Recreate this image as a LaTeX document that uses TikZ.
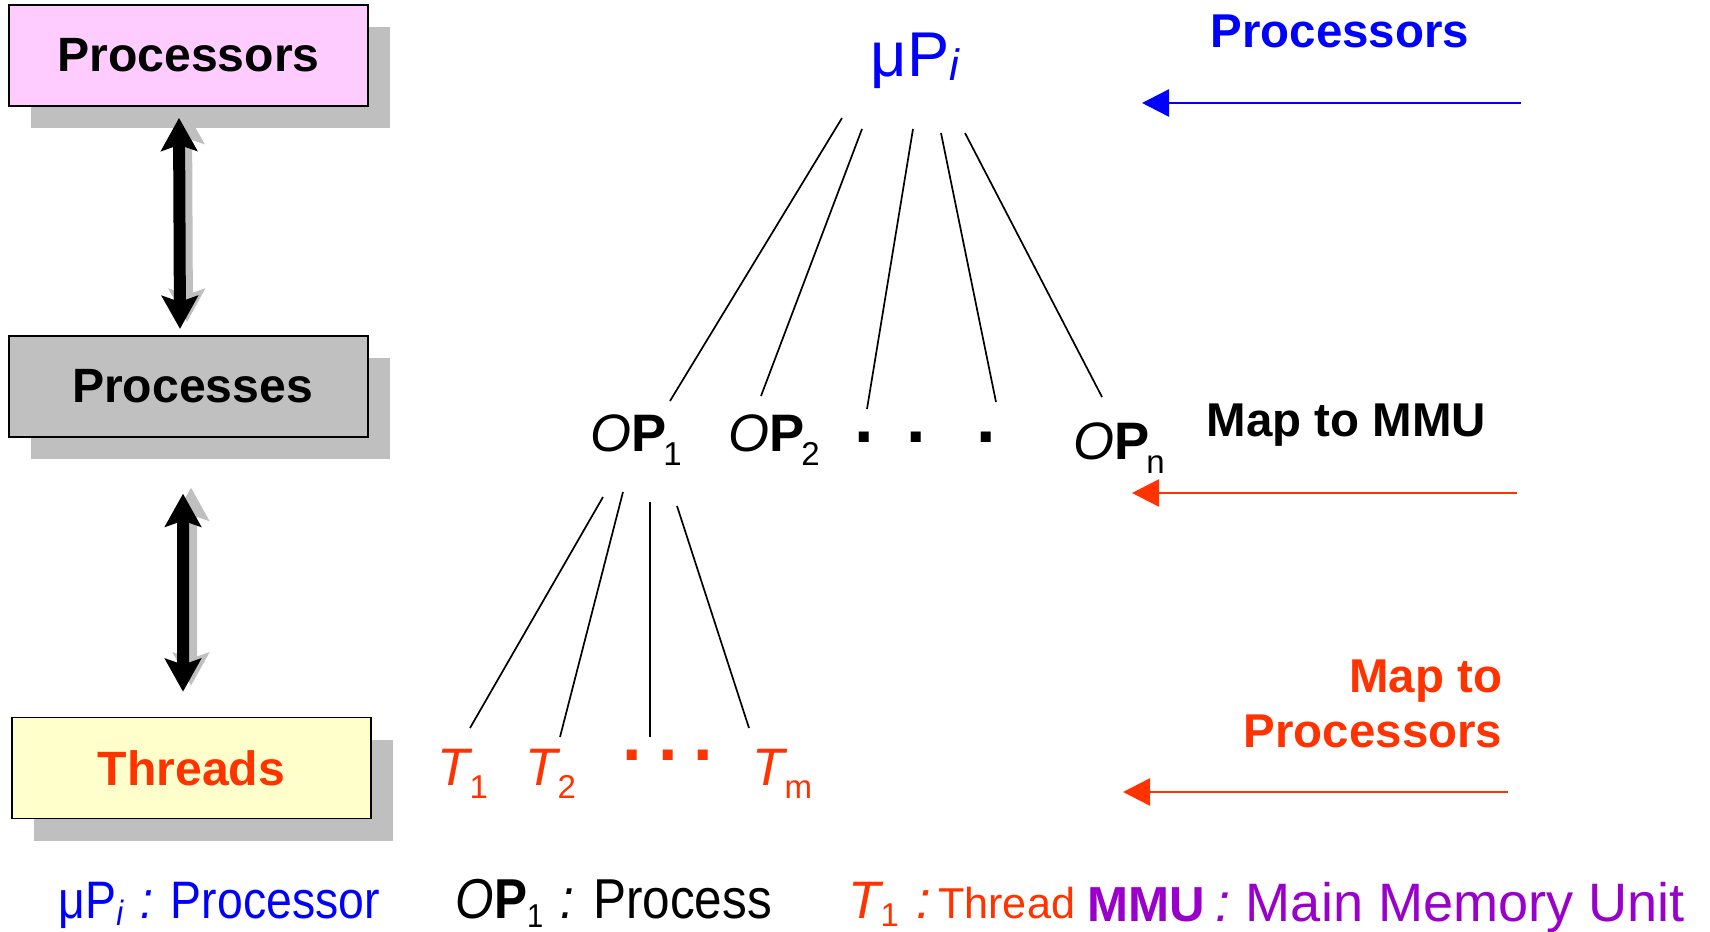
\documentclass[tikz,border=0pt]{standalone}
\usepackage{fontspec}
\setmainfont{Liberation Sans}
\newfontfamily\narrowsans[FakeStretch=0.88]{Liberation Sans}
\usetikzlibrary{positioning,shadows,arrows.meta}

\definecolor{procpink}{HTML}{FFCCFF}
\definecolor{procgray}{HTML}{C0C0C0}
\definecolor{thryellow}{HTML}{FFFFCC}
\definecolor{shadowgray}{HTML}{BFBFBF}
\definecolor{thrred}{HTML}{FF3300}
\definecolor{mmupurple}{HTML}{9900CC}

% lowered index, e.g. OP_1, T_m
\newcommand{\idx}[2][0.25em]{\raisebox{-#1}{\fontsize{9.4}{10}\selectfont #2}}

\begin{document}
\begin{tikzpicture}[x=0.1mm, y=-0.1mm,
layerbox/.style={rectangle, draw=black, line width=0.18mm, minimum width=35.9mm, minimum height=10.1mm,
  font=\fontsize{13.7}{15}\selectfont\bfseries,
  drop shadow={shadow xshift=2.2mm, shadow yshift=-2.2mm, fill=shadowgray, opacity=1}},
txt/.style={inner sep=0pt, anchor=base west},
heading/.style={txt, font=\fontsize{13.5}{15}\selectfont\bfseries},
opnode/.style={txt, font=\fontsize{15}{16}\selectfont},
dotnode/.style={inner sep=0pt, anchor=base, font=\fontsize{20}{20}\selectfont\bfseries},
branch/.style={line width=0.17mm},
bigarrow/.style={line width=1.2mm, {Stealth[length=3.3mm, width=3.6mm, inset=0.6mm]}-{Stealth[length=3.3mm, width=3.6mm, inset=0.6mm]}},
maparrow/.style={line width=0.25mm, -{Triangle[length=2.7mm, width=2.7mm]}},
]
\useasboundingbox (0,0) rectangle (1710,932);

% the three layers on the left
\node[layerbox, fill=procpink] (procbox) at (188.5,55.5) {Processors};
\node[layerbox, fill=procgray] (procsbox) [below=22.8mm of procbox] {\hspace{0.8mm}Processes};
\node[layerbox, fill=thryellow, text=thrred, xshift=0.3mm] (thrbox) [below=27.9mm of procsbox] {Threads};

% double arrows, gray copy first
\draw[bigarrow, shadowgray, transform canvas={shift={(0.7mm,0.7mm)}}] ([shift={(-9.5,11)}]procbox.south) -- ([shift={(-8.5,-6)}]procsbox.north);
\draw[bigarrow] ([shift={(-9.5,11)}]procbox.south) -- ([shift={(-8.5,-6)}]procsbox.north);
\draw[bigarrow, shadowgray, transform canvas={shift={(0.8mm,0.6mm)}}] ([shift={(-5.5,56)}]procsbox.south) -- ([shift={(-8.5,-25)}]thrbox.north);
\draw[bigarrow] ([shift={(-5.5,56)}]procsbox.south) -- ([shift={(-8.5,-25)}]thrbox.north);

% processor, processes, threads
\node[txt, text=blue, font=\fontsize{18}{18}\selectfont] (mup) at (870,77) {μP\raisebox{-0.05em}{\fontsize{12.5}{12}\selectfont\itshape i}};
\node[opnode] (op1) at (590,452) {\textit{O}\textbf{P}\hspace{-1pt}\idx{1}};
\node[opnode] (op2) at (728,452) {\textit{O}\textbf{P}\hspace{-1pt}\idx{2}};
\node[dotnode] (opdot1) at (864,443) {.};
\node[dotnode] (opdot2) at (916,443) {.};
\node[dotnode] (opdot3) at (986,443) {.};
\node[opnode] (opn) at (1073,460) {\textit{O}\textbf{P}\hspace{-1pt}\idx{n}};

\node[opnode, text=thrred] (t1) at (437,785) {\textit{T}\hspace{-1pt}\idx{1}};
\node[opnode, text=thrred] (t2) at (525,785) {\textit{T}\hspace{-1pt}\idx{2}};
\node[dotnode, text=thrred] (tdot1) at (632,760) {.};
\node[dotnode, text=thrred] (tdot2) at (668,760) {.};
\node[dotnode, text=thrred] (tdot3) at (703,760) {.};
\node[opnode, text=thrred] (tm) at (752,785) {\textit{T}\hspace{-1pt}\idx{m}};

% muP_i -> OP
\draw[branch] ([shift={(-28,41)}]mup.base west) -- ([shift={(80,-51)}]op1.base west);
\draw[branch] ([shift={(-8,52)}]mup.base west) -- ([shift={(33,-56)}]op2.base west);
\draw[branch] ([shift={(43,52)}]mup.base west) -- ([shift={(3,-34)}]opdot1.base);
\draw[branch] ([shift={(71,56)}]mup.base west) -- ([shift={(10,-41)}]opdot3.base);
\draw[branch] ([shift={(95,56)}]mup.base west) -- ([shift={(29,-63)}]opn.base west);

% OP_1 -> T
\draw[branch] ([shift={(13,45)}]op1.base west) -- ([shift={(33,-57)}]t1.base west);
\draw[branch] ([shift={(33,40)}]op1.base west) -- ([shift={(35,-48)}]t2.base west);
\draw[branch] ([shift={(60,50)}]op1.base west) -- ([shift={(18,-23)}]tdot1.base);
\draw[branch] ([shift={(87,54)}]op1.base west) -- ([shift={(-3,-57)}]tm.base west);

% mapping labels and arrows on the right
\node[heading, text=blue] (proclbl) at (1210,48) {Processors};
\node[heading] (mmulbl) at (1206,437) {Map to MMU};
\node[heading, text=thrred, anchor=base east] (maplbl1) at (1503,692) {Map to};
\node[heading, text=thrred, anchor=base east] (maplbl2) at (1503,747) {Processors};

\coordinate (procsrc) at (1521,103);
\coordinate (procdst) at (1142,103);
\coordinate (mmusrc) at (1517,493);
\coordinate (mmudst) at (1132,493);
\coordinate (mapsrc) at (1508,792);
\coordinate (mapdst) at (1123,792);
\draw[maparrow, blue] (procsrc) -- (procdst);
\draw[maparrow, thrred] (mmusrc) -- (mmudst);
\draw[maparrow, thrred] (mapsrc) -- (mapdst);

% legend
\node[txt, text=blue, font=\narrowsans\fontsize{15}{16}\selectfont] (legmup) at (58,918)
  {μP\raisebox{-0.15em}{\fontsize{10}{10}\selectfont\itshape i}\hspace{5pt}\textit{:} Processor};
\node[txt, font=\narrowsans\fontsize{16}{16}\selectfont] (legop) at (455,918)
  {\textit{O}\textbf{P}\idx[0.16em]{1}\hspace{5pt}\textit{:} Process};
\node[txt, text=thrred, font=\fontsize{15}{16}\selectfont] (legt) at (848,918)
  {\textit{T}\hspace{-1pt}\idx[0.17em]{1}\hspace{5pt}\textit{:}\hspace{2pt}{\fontsize{12.3}{13}\selectfont Thread}};
\node[txt, text=mmupurple, font=\fontsize{15.4}{16}\selectfont] (legmmu) at (1087,921)
  {{\fontsize{14}{15}\selectfont\bfseries MMU}\hspace{3pt}\textit{:} Main Memory Unit};

\end{tikzpicture}
\end{document}
